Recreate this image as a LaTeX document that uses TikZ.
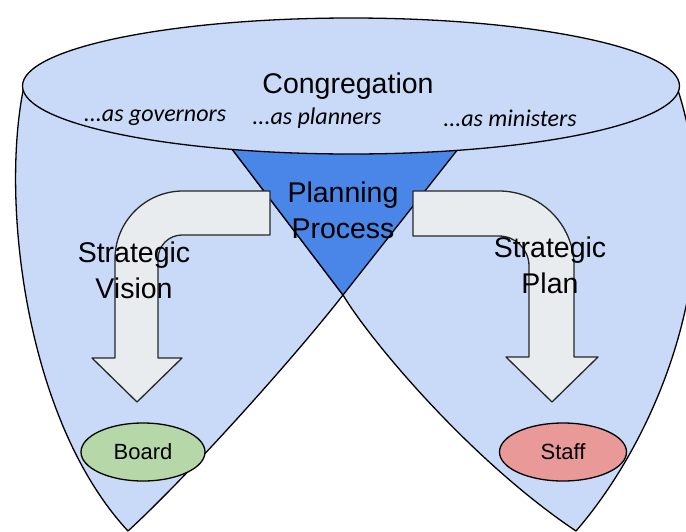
\documentclass[tikz,border=0pt]{standalone}
\usepackage{fontspec}
\setmainfont{Liberation Sans}
\newfontfamily\carlito{Carlito}
\usetikzlibrary{shapes.geometric}
\definecolor{leafblue}{HTML}{C9DAF8}
\definecolor{procblue}{HTML}{4A86E8}
\definecolor{arrowgray}{HTML}{E9ECEE}
\definecolor{boardgreen}{HTML}{B6D7A8}
\definecolor{staffred}{HTML}{EA9999}
\begin{document}
\begin{tikzpicture}[x=1pt,y=-1pt,line join=round]
        \useasboundingbox (0,0) rectangle (686,531);
        \begin{scope}[every path/.style={fill=leafblue,draw=black,line width=1.3pt}]
          \path (24,86) .. controls (0,200) and (25,420) .. (128,531)
                .. controls (188,476) and (293,359) .. (343,295) -- (473,130) -- cycle;
          \path (217.5,130) -- (343,295) .. controls (370,340) and (470,460) .. (576,531)
                .. controls (655,440) and (735,260) .. (676,84) -- cycle;
        \end{scope}
        \draw[fill=procblue,line width=1.3pt] (217.5,130) -- (473,130) -- (343,295) -- cycle;
        \draw[fill=leafblue,line width=1.3pt] (351,86) ellipse [x radius=328.5,y radius=68];
        \begin{scope}[every path/.style={fill=arrowgray,draw=black!85,line width=1.3pt}]
          \path (270,191) -- (183,191) arc[start angle=270,end angle=180,radius=68]
                -- (115,358) -- (92,358) -- (137,402) -- (182,358) -- (158,358) -- (158,259)
                arc[start angle=180,end angle=270,radius=24] -- (270,235) -- cycle;
          \path (413,191) -- (499,191) arc[start angle=270,end angle=360,radius=75]
                -- (574,357) -- (598,357) -- (552,402) -- (506,357) -- (529,357) -- (529,266)
                arc[start angle=0,end angle=-90,radius=30] -- (413,236) -- cycle;
        \end{scope}
        \begin{scope}[every node/.style={align=center,font=\fontsize{28.5}{36}\selectfont}]
          \node (cong) at (348,86) {Congregation};
          \node (proc) at (343,210) {Planning\\Process};
          \node (vis) at (134,270) {Strategic\\Vision};
          \node (plan) at (550,265) {Strategic\\Plan};
        \end{scope}
        \begin{scope}[every node/.style={font=\carlito\itshape\fontsize{24}{28}\selectfont}]
          \node (gov) at (155,118) {...as governors};
          \node (plnr) at (317,118) {...as planners};
          \node (mins) at (510,118) {...as ministers};
        \end{scope}
        \begin{scope}[every node/.style={ellipse,draw=black,line width=1.3pt,minimum height=58pt,font=\fontsize{22}{26}\selectfont}]
          \node[fill=boardgreen,minimum width=124pt] (board) at (143,452) {Board};
          \node[fill=staffred,minimum width=127pt] (staff) at (563,452) {Staff};
        \end{scope}
      \end{tikzpicture}
\end{document}
